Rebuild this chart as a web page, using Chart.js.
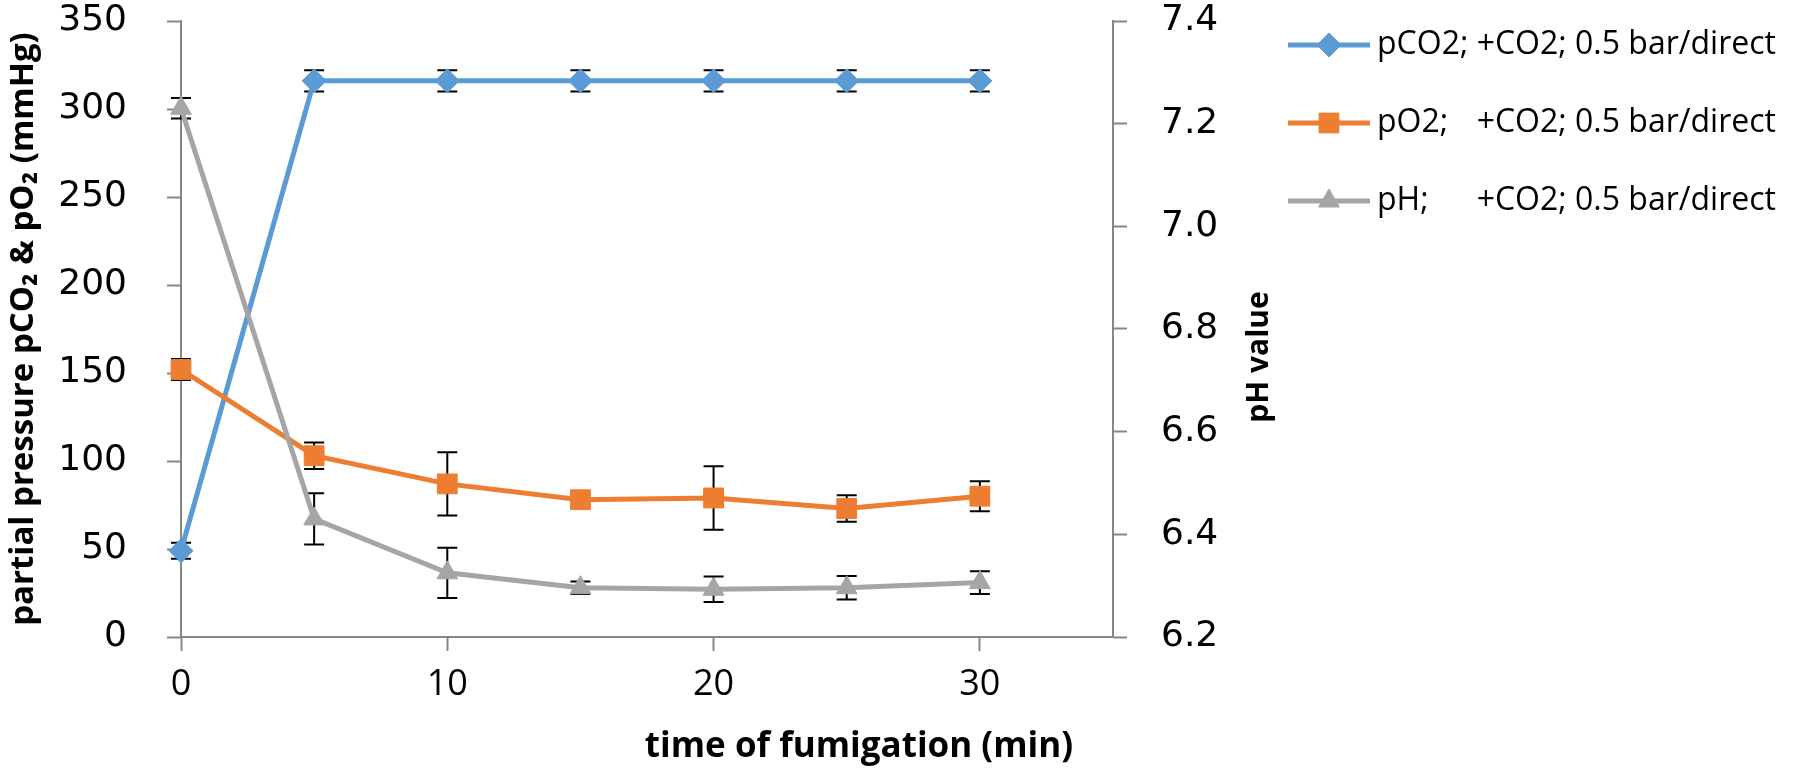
<!DOCTYPE html>
<html>
<head>
<meta charset="utf-8">
<script src="https://cdn.jsdelivr.net/npm/chart.js@4.4.1/dist/chart.umd.min.js"></script>
<style>
  html, body { margin: 0; padding: 0; background: #fff; }
  #wrap { width: 1796px; height: 770px; }
</style>
</head>
<body>
<div id="wrap"><canvas id="chartFumigation"></canvas></div>
<script>
// values
var times = [0, 5, 10, 15, 20, 25, 30];
var pco2 = [49, 316, 316, 316, 316, 316, 316];
var pco2Err = [4.5, 6, 6, 6, 6, 6, 6];
var po2 = [152, 103, 87, 78, 79, 73, 80];
var po2Err = [6, 7.5, 18, 3, 18, 7.5, 8.5];
var ph = [7.23, 6.43, 6.325, 6.296, 6.293, 6.296, 6.306];
var phErr = [0.02, 0.05, 0.049, 0.012, 0.025, 0.023, 0.022];
var seriesLabels = ["pCO2; +CO2; 0.5 bar/direct", "pO2;   +CO2; 0.5 bar/direct", "pH;     +CO2; 0.5 bar/direct"];
var xTitle = "time of fumigation (min)";
var yTitle = "partial pressure pCO\u2082 & pO\u2082 (mmHg)";
var y1Title = "pH value";

var AXIS = '#868686';

function pts(ys) {
  return times.map(function (t, i) { return {x: t, y: ys[i]}; });
}

// error bars, drawn under each series' line and markers
var errorBars = {
  id: 'errorBars',
  beforeDatasetDraw: function (chart, args) {
    var ds = chart.data.datasets[args.index];
    if (!ds.errors) return;
    var meta = args.meta;
    var yScale = chart.scales[meta.yAxisID];
    var ctx = chart.ctx;
    ctx.save();
    ctx.strokeStyle = '#000';
    ctx.lineWidth = 2;
    meta.data.forEach(function (pt, i) {
      var v = ds.data[i].y, e = ds.errors[i];
      var top = yScale.getPixelForValue(v + e);
      var bot = yScale.getPixelForValue(v - e);
      ctx.beginPath();
      ctx.moveTo(pt.x, top); ctx.lineTo(pt.x, bot);
      ctx.moveTo(pt.x - 10, top); ctx.lineTo(pt.x + 10, top);
      ctx.moveTo(pt.x - 10, bot); ctx.lineTo(pt.x + 10, bot);
      ctx.stroke();
    });
    ctx.restore();
  }
};

// excel style legend (line + marker) plus the titles that chart.js can't place like the original
var extras = {
  id: 'extras',
  afterDraw: function (chart) {
    var ctx = chart.ctx;
    var area = chart.chartArea;
    ctx.save();

    // legend
    ctx.font = '32px "Open Sans"';
    var textX = 1377;
    var colX = 0;
    seriesLabels.forEach(function (l) {
      var pre = l.slice(0, l.indexOf(';') + 1) + ' ';
      colX = Math.max(colX, ctx.measureText(pre).width);
    });
    chart.data.datasets.forEach(function (ds, i) {
      var y = 45 + i * 78;
      ctx.strokeStyle = ds.borderColor;
      ctx.lineWidth = 5;
      ctx.beginPath(); ctx.moveTo(1288, y); ctx.lineTo(1370, y); ctx.stroke();
      ctx.fillStyle = ds.borderColor;
      ctx.lineWidth = 1;
      Chart.helpers.drawPoint(ctx, {pointStyle: ds.pointStyle, radius: ds.pointRadius, rotation: 0, borderWidth: 1}, 1329, y);
      var l = seriesLabels[i];
      var cut = l.indexOf(';') + 1;
      ctx.fillStyle = '#000';
      ctx.textAlign = 'left';
      ctx.textBaseline = 'middle';
      ctx.fillText(l.slice(0, cut), textX, y);
      ctx.fillText(l.slice(cut).trim(), textX + colX, y);
    });

    // x title
    ctx.font = 'bold 35px "Open Sans"';
    ctx.textAlign = 'center';
    ctx.textBaseline = 'alphabetic';
    ctx.fillText(xTitle, 859, 757);

    // right title, reads bottom to top
    ctx.font = 'bold 30px "Open Sans"';
    ctx.translate(1259, (area.top + area.bottom) / 2 + 28);
    ctx.rotate(-Math.PI / 2);
    ctx.textBaseline = 'middle';
    ctx.fillText(y1Title, 0, 0);
    ctx.restore();
  }
};

var axisGrid = {
  display: true,
  drawOnChartArea: false,
  drawTicks: true,
  tickLength: 14,
  tickColor: AXIS,
  tickWidth: 2
};

new Chart('chartFumigation', {
  type: 'line',
  data: {
    datasets: [
      {
        label: seriesLabels[0],
        data: pts(pco2),
        errors: pco2Err,
        yAxisID: 'y',
        borderColor: '#5B9BD5',
        backgroundColor: '#5B9BD5',
        pointStyle: 'rectRot',
        pointRadius: 12,
        order: 2
      },
      {
        label: seriesLabels[1],
        data: pts(po2),
        errors: po2Err,
        yAxisID: 'y',
        borderColor: '#ED7D31',
        backgroundColor: '#ED7D31',
        pointStyle: 'rect',
        pointRadius: 14,
        order: 1
      },
      {
        label: seriesLabels[2],
        data: pts(ph),
        errors: phErr,
        yAxisID: 'y1',
        borderColor: '#A5A5A5',
        backgroundColor: '#A5A5A5',
        pointStyle: 'triangle',
        pointRadius: 12,
        order: 0
      }
    ]
  },
  options: {
    responsive: true,
    maintainAspectRatio: false,
    animation: false,
    clip: false,
    layout: { padding: { top: 21, left: 0, right: 0, bottom: 0 } },
    elements: {
      line: { borderWidth: 5, tension: 0 },
      point: { borderWidth: 1, hoverRadius: 12 }
    },
    plugins: {
      legend: { display: false },
      tooltip: { enabled: false }
    },
    scales: {
      x: {
        type: 'linear',
        min: 0,
        max: 35,
        grid: axisGrid,
        border: { display: true, color: AXIS, width: 2 },
        ticks: {
          stepSize: 10,
          includeBounds: false,
          padding: 12,
          color: '#000',
          font: { family: '"Open Sans"', size: 36 },
          maxRotation: 0
        },
        afterFit: function (s) { s.height = 133; }
      },
      y: {
        position: 'left',
        min: 0,
        max: 350,
        grid: axisGrid,
        border: { display: true, color: AXIS, width: 2 },
        ticks: {
          stepSize: 50,
          padding: 40,
          color: '#000',
          font: { family: '"DejaVu Sans"', size: 36 }
        },
        title: {
          display: true,
          text: yTitle,
          color: '#000',
          font: { family: '"Open Sans"', size: 33, weight: 'bold' },
          padding: { top: 4, bottom: 0 }
        },
        afterFit: function (s) { s.width = 181; s.paddingTop = 0; s.paddingBottom = 0; }
      },
      y1: {
        position: 'right',
        min: 6.2,
        max: 7.4,
        grid: axisGrid,
        border: { display: true, color: AXIS, width: 2 },
        ticks: {
          stepSize: 0.2,
          padding: 34,
          color: '#000',
          font: { family: '"DejaVu Sans"', size: 36 },
          callback: function (v) { return v.toFixed(1); }
        },
        afterFit: function (s) { s.width = 683; s.paddingTop = 0; s.paddingBottom = 0; }
      }
    }
  },
  plugins: [errorBars, extras]
});
</script>
</body>
</html>
